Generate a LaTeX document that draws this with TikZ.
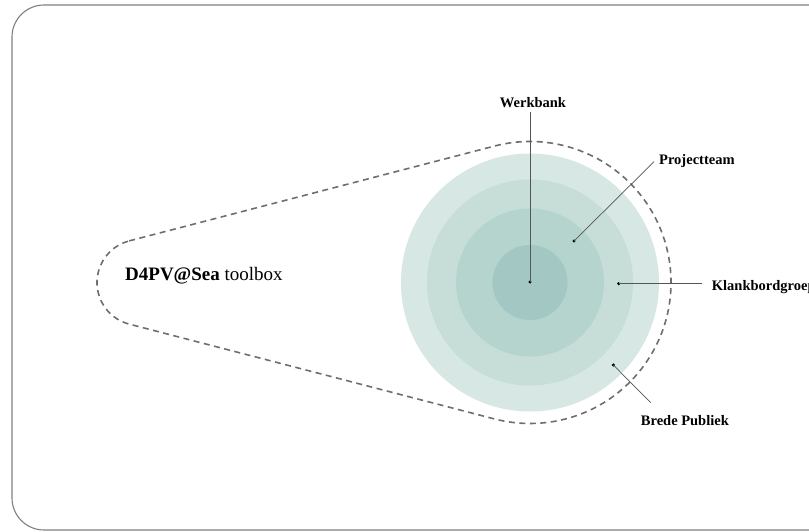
\documentclass[tikz,border=0pt]{standalone}
\usepackage{fontspec}
\setmainfont{Liberation Serif}
\usetikzlibrary{shapes, positioning, calc}

\definecolor{ringA}{HTML}{D7E7E3}
\definecolor{ringB}{HTML}{C6DDD8}
\definecolor{ringC}{HTML}{B5D4CE}
\definecolor{ringD}{HTML}{A3C7C2}
\definecolor{frameGray}{HTML}{7F7F7F}
\definecolor{hullGray}{HTML}{6E6E6E}
\definecolor{leadGray}{HTML}{555555}

\begin{document}
\begin{tikzpicture}[x=1pt, y=1pt,
    label/.style={inner sep=0pt, anchor=base west, text=black,
        font=\fontsize{14.5}{16}\selectfont\bfseries},
    title/.style={inner sep=0pt, anchor=base west, text=black,
        font=\fontsize{19}{22}\selectfont},
    dot/.style={circle, fill=black, inner sep=0pt, minimum size=3.4pt},
    leader/.style={draw=leadGray, line width=0.7pt},
    hull/.style={draw=hullGray, line width=1.6pt, dash pattern=on 6pt off 4.5pt},
    ring/.style={draw=none}
]
\useasboundingbox (0,0) rectangle (809,531);
\clip (0,0) rectangle (809,531);

% outer frame, runs off to the right
\draw[frameGray, line width=1.1pt, rounded corners=32pt] (12,1) rectangle (850,526);

% rings
\coordinate (C00) at (530,248.5);
\fill[ringA] (C00) circle[radius=129pt];
\fill[ringB] (C00) circle[radius=103pt];
\fill[ringC] (C00) circle[radius=74pt];
\fill[ringD] (C00) circle[radius=37.5pt];

% toolbox outline
\coordinate (T00) at (140,248.5);
\draw[hull] ($(T00)+(104.55:43pt)$) -- ($(C00)+(104.55:141pt)$)
    arc[start angle=104.55, end angle=-104.55, radius=141pt]
    -- ($(T00)+(255.45:43pt)$)
    arc[start angle=255.45, end angle=104.55, radius=43pt] -- cycle;

\node (Tbx) [title] at (125,250) {\textbf{D4PV@Sea} toolbox};

% labels
\node (L01) [label, anchor=base] at (533,423) {Werkbank};
\node (L02) [label] at (659,366) {Projectteam};
\node (L03) [label] at (711.7,240.5) {Klankbordgroep};
\node (L04) [label] at (640.7,105.5) {Brede Publiek};

% dots
\node (D01) [dot] at (530,249) {};
\node (D02) [dot] at (574,290) {};
\node (D03) [dot] at (618.7,247.3) {};
\node (D04) [dot] at (613.3,166) {};

\coordinate (E01) at (530,419);
\coordinate (E02) at (654,369.3);
\coordinate (E03) at (701.7,247.3);
\coordinate (E04) at (650.7,128.3);

\draw[leader] (E01) -- (D01.center);
\draw[leader] (E02) -- (D02.center);
\draw[leader] (E03) -- (D03.center);
\draw[leader] (E04) -- (D04.center);
\end{tikzpicture}
\end{document}
